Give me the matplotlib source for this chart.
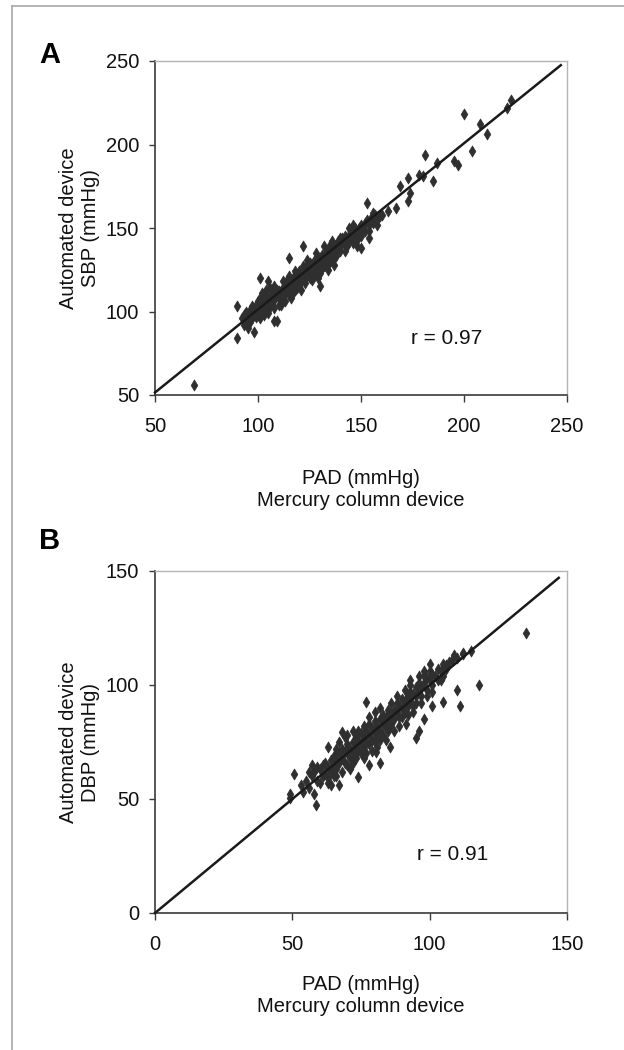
import matplotlib
matplotlib.use("Agg")
import matplotlib.pyplot as plt
from matplotlib.lines import Line2D

plt.rcParams['font.family'] = ['Liberation Sans', 'DejaVu Sans']

# Panel A: systolic, mercury column (x) vs automated device (y)
sbp_mercury = [
    69, 90, 90, 98, 108, 109, 101, 105, 115, 122, 130, 134, 150, 153, 154, 163, 167, 169,
    173, 173, 174, 178, 181, 180, 185, 187, 195, 197, 200, 204, 208, 211, 221, 223,
    92, 93, 94, 94, 95, 95, 96, 96, 97, 97, 98, 98, 99, 99, 100, 100, 100, 93, 95, 96,
    101, 101, 102, 102, 103, 103, 104, 104, 105, 105, 106, 106, 107, 107, 108, 108, 109, 109,
    110, 110, 101, 103, 104, 106, 108, 110, 102, 105,
    111, 111, 112, 112, 113, 113, 114, 114, 115, 115, 116, 116, 117, 117, 118, 118, 119, 119,
    120, 120, 111, 113, 115, 116, 118, 120, 114, 117, 119, 112,
    121, 121, 122, 122, 123, 123, 124, 124, 125, 125, 126, 126, 127, 127, 128, 128, 129, 129,
    130, 130, 121, 123, 124, 126, 128, 130, 122, 125, 127, 129,
    131, 131, 132, 132, 133, 133, 134, 134, 135, 135, 136, 136, 137, 137, 138, 138, 139, 139,
    140, 140, 132, 134, 136, 138, 140, 131, 135, 137,
    141, 141, 142, 142, 143, 143, 144, 144, 145, 145, 146, 146, 147, 147, 148, 148, 149, 149,
    150, 150, 142, 144, 146, 148, 150,
    151, 152, 152, 153, 154, 155, 156, 157, 158, 159, 160, 156, 154, 158,
]
sbp_automated = [
    56, 84, 103, 88, 94.5, 94.5, 120, 118, 132, 139, 115.5, 125, 138, 165, 144, 160, 162, 175,
    180, 166, 171, 182, 194, 181, 178, 189, 190, 188, 218, 196, 212, 206, 222, 226.6,
    96, 98, 95, 100, 97, 93, 99, 101, 96, 103, 98, 100, 97, 104, 101, 98, 106, 92, 90, 94,
    103, 108, 100, 105, 107, 102, 104, 110, 101, 106, 108, 103, 111, 105, 107, 102, 110, 113,
    108, 104, 96, 98, 113, 114, 115, 112, 111, 99,
    112, 109, 114, 107, 115, 111, 117, 112, 116, 110, 118, 114, 120, 116, 117, 113, 121, 118,
    119, 115, 104, 106, 121, 108, 124, 124, 119, 111, 114, 118,
    122, 118, 124, 120, 122, 126, 121, 127, 124, 120, 128, 124, 125, 130, 127, 123, 131, 126,
    128, 132, 113, 117, 131, 119, 135, 123, 127, 129, 121, 120,
    130, 134, 131, 127, 135, 131, 133, 137, 134, 130, 138, 135, 136, 132, 140, 137, 138, 142,
    139, 136, 139, 128, 142, 133, 144, 126, 140, 128,
    141, 144, 140, 145, 143, 139, 146, 142, 144, 148, 145, 141, 148, 150, 147, 143, 150, 146,
    149, 152, 136, 150, 152, 139, 145,
    150, 153, 148, 155, 152, 156, 153, 158, 155, 157, 158, 159, 148, 152,
]
sbp_line_x = [50, 247]
sbp_line_y = [51.5, 247.5]

# Panel B: diastolic
dbp_mercury = [
    135, 118, 110, 111, 105, 101, 98, 95, 96, 85.5, 91.5, 74, 67, 64, 58.5, 58, 50.5, 49,
    53, 54, 49, 57, 63, 68, 77, 92.7, 109, 112, 115, 105, 106, 80.6, 82, 78, 85.5,
    55, 56, 57, 58, 59, 60, 60, 61, 61, 62, 62, 63, 63, 64, 64, 65, 65, 56, 59, 63, 65,
    66, 66, 67, 67, 68, 68, 69, 69, 70, 70, 71, 71, 72, 72, 73, 73, 74, 74, 75, 75,
    66, 68, 70, 72, 74, 67, 69, 71, 73, 75, 66, 70, 72,
    76, 76, 77, 77, 78, 78, 79, 79, 80, 80, 81, 81, 82, 82, 83, 83, 84, 84, 85, 85,
    76, 77, 78, 79, 80, 81, 82, 83, 84, 85, 76, 78, 80, 82,
    86, 86, 87, 87, 88, 88, 89, 89, 90, 90, 91, 91, 92, 92, 93, 93, 94, 94, 95, 95,
    86, 87, 88, 89, 90, 91, 92, 93, 94, 95,
    96, 96, 97, 97, 98, 98, 99, 99, 100, 100, 101, 101, 102, 103, 103, 104, 105, 106,
    107, 108, 110, 112, 97, 99, 101, 104, 96, 98, 100,
]
dbp_automated = [
    123, 100, 97.7, 91, 92.6, 91, 85, 76.6, 80, 73, 83, 59.6, 56, 56, 47.5, 52, 61, 52,
    56, 53, 50.4, 65, 73, 79.5, 92.6, 102, 113, 113.7, 115, 104, 108.6, 70.8, 66, 65, 82,
    58, 55, 60, 62, 58, 63, 57, 65, 60, 61, 66, 64, 59, 67, 62, 64, 69, 62, 64, 57, 60,
    67, 63, 70, 66, 68, 72, 66, 71, 70, 74, 68, 72, 75, 70, 73, 77, 71, 76, 74, 79,
    72, 62, 65, 66, 80, 75, 77, 63, 68, 70, 60, 78, 80,
    77, 73, 80, 75, 78, 83, 76, 81, 79, 84, 82, 77, 85, 80, 83, 87, 81, 86, 84, 89,
    82, 70, 86, 71, 88, 73, 90, 78, 76, 80, 68, 74, 75, 76,
    87, 83, 89, 85, 88, 92, 86, 91, 90, 94, 88, 93, 95, 91, 93, 97, 91, 96, 95, 99,
    92, 80, 95, 82, 86, 98, 87, 100, 88, 92,
    97, 101, 99, 95, 101, 104, 98, 103, 102, 106, 100, 105, 104, 107, 102, 106, 109, 107,
    110, 111, 112, 114, 92, 95, 97, 102, 104, 106, 109,
]
dbp_line_x = [0, 147]
dbp_line_y = [0, 147]

W, H = 624, 1050
fig = plt.figure(figsize=(W / 100, H / 100), dpi=100)


def px_axes(left, top, right, bottom):
    return fig.add_axes([left / W, 1 - bottom / H, (right - left) / W, (bottom - top) / H])


def style_axes(ax, lim, ticks):
    ax.set_xlim(lim)
    ax.set_ylim(lim)
    ax.set_xticks(ticks)
    ax.set_yticks(ticks)
    for side in ['left', 'bottom']:
        ax.spines[side].set_color('#3a3a3a')
        ax.spines[side].set_linewidth(1.2)
    for side in ['top', 'right']:
        ax.spines[side].set_color('#b5b5b5')
        ax.spines[side].set_linewidth(1.0)
    ax.tick_params(axis='x', direction='out', length=5, width=1, color='#3a3a3a',
                   labelsize=14.5, pad=11, labelcolor='#111111')
    ax.tick_params(axis='y', direction='out', length=4.5, width=1, color='#3a3a3a',
                   labelsize=14.5, pad=7, labelcolor='#111111')


panels = [
    dict(box=(155, 61, 567, 395), x=sbp_mercury, y=sbp_automated, lx=sbp_line_x, ly=sbp_line_y,
         lim=(50, 250), ticks=[50, 100, 150, 200, 250], letter='A', letter_y=55,
         ylab='Automated device\nSBP (mmHg)', r='r = 0.97', r_pos=(447, 338), xlab_y=489),
    dict(box=(155, 571, 567, 913), x=dbp_mercury, y=dbp_automated, lx=dbp_line_x, ly=dbp_line_y,
         lim=(0, 150), ticks=[0, 50, 100, 150], letter='B', letter_y=541,
         ylab='Automated device\nDBP (mmHg)', r='r = 0.91', r_pos=(453, 855), xlab_y=996),
]

for p in panels:
    ax = px_axes(*p['box'])
    style_axes(ax, p['lim'], p['ticks'])
    ax.plot(p['lx'], p['ly'], color='#1a1a1a', linewidth=1.8, zorder=3, clip_on=False)
    ax.scatter(p['x'], p['y'], marker='d', s=32, facecolor='#2f2f2f', edgecolor='#2f2f2f',
               linewidth=0.5, zorder=2, clip_on=False)
    left, top, right, bottom = p['box']
    cx = (left + right) / 2
    cy = (top + bottom) / 2
    fig.text(80 / W, 1 - cy / H, p['ylab'], rotation=90, ha='center', va='center',
             fontsize=14.5, color='#111111', linespacing=1.2)
    fig.text(cx / W, 1 - p['xlab_y'] / H, 'PAD (mmHg)\nMercury column device',
             ha='center', va='center', fontsize=14.5, color='#111111', linespacing=1.2)
    fig.text(p['r_pos'][0] / W, 1 - p['r_pos'][1] / H, p['r'], ha='center', va='center',
             fontsize=15, color='#111111')
    fig.text(50 / W, 1 - p['letter_y'] / H, p['letter'], ha='center', va='center',
             fontsize=21, fontweight='bold', color='#000000')

# thin gray frame round the figure (top and left edges only, as in the source)
fig.add_artist(Line2D([12 / W, 1], [1 - 6 / H, 1 - 6 / H], color='#a8a8a8', linewidth=1.2))
fig.add_artist(Line2D([12 / W, 12 / W], [0, 1 - 6 / H], color='#a8a8a8', linewidth=1.2))

fig.savefig('out.png', dpi=100, facecolor='white')
